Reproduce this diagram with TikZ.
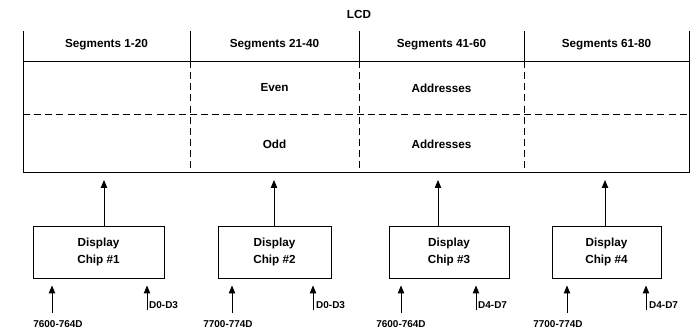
\documentclass[tikz,border=0pt]{standalone}
\usepackage{fontspec}
\setmainfont{Liberation Sans}
\usetikzlibrary{arrows.meta}

\begin{document}
\begin{tikzpicture}[
    x=0.03cm, y=-0.03cm,
    every node/.style={font=\fontsize{10}{14.5}\selectfont\bfseries},
    grid line/.style={line width=0.8pt},
    dash line/.style={grid line, dash pattern=on 6pt off 3.5pt},
    chip/.style={draw, line width=0.8pt, minimum height=1.56cm, align=center, inner sep=0pt},
    pin/.style={line width=0.8pt, -{Triangle[length=6.8pt,width=5.5pt]}},
    addr/.style={font=\fontsize{8.5}{10}\selectfont\bfseries},
    data/.style={addr, anchor=west, inner sep=0pt}
  ]
  \useasboundingbox (0,0) rectangle (698,331);

  % LCD
  \node (lcd) at (359,14) {LCD};
  \draw[grid line] (23,31) -- (23,172) -- (689,172) -- (689,31);
  \draw[grid line] (23,61) -- (689,61);
  \draw[dash line] (23,114) -- (689,114);
  \foreach \x in {190,359,524} {
    \draw[grid line] (\x,31) -- (\x,61);
    \draw[dash line] (\x,61) -- (\x,172);
  }

  % Segment columns
  \foreach \cx/\txt [count=\i] in {106.5/1-20, 274.5/21-40, 441.5/41-60, 606.5/61-80}
    \node (seg\i) at (\cx,45) {Segments \txt};

  % Even / odd rows
  \node (even) at (274.5,88) {Even};
  \node (evenaddr) at (441.5,88) {Addresses};
  \node (odd) at (274.5,144) {Odd};
  \node (oddaddr) at (441.5,144) {Addresses};

  % Display chips
  \node[chip, minimum width=3.93cm] (chip1) at (98.5,252) {Display\\Chip \#1};
  \node[chip, minimum width=3.39cm] (chip2) at (274.5,252) {Display\\Chip \#2};
  \node[chip, minimum width=3.6cm] (chip3) at (449,252) {Display\\Chip \#3};
  \node[chip, minimum width=3.27cm] (chip4) at (606.5,252) {Display\\Chip \#4};

  % Address and data labels
  \node[addr] (addr1) at (58,324) {7600-764D};
  \node[addr] (addr2) at (228,324) {7700-774D};
  \node[addr] (addr3) at (401,324) {7600-764D};
  \node[addr] (addr4) at (558,324) {7700-774D};
  \node[data] (dat1) at (149,305) {D0-D3};
  \node[data] (dat2) at (316,305) {D0-D3};
  \node[data] (dat3) at (478,305) {D4-D7};
  \node[data] (dat4) at (649,305) {D4-D7};

  % Connections
  \foreach \i/\ux/\ax/\dx in {1/104/52/147, 2/274/232/313, 3/438/401/476, 4/605/567/646} {
    \coordinate (in\i) at (\ux,180);
    \draw[pin] (chip\i.north -| in\i) -- (in\i);
    \coordinate (a\i) at (\ax,313);
    \draw[pin, shorten >=0.21cm] (a\i) -- (a\i |- chip\i.south);
    \coordinate (d\i) at (\dx,310);
    \draw[pin, shorten >=0.21cm] (d\i) -- (d\i |- chip\i.south);
  }

\end{tikzpicture}
\end{document}
